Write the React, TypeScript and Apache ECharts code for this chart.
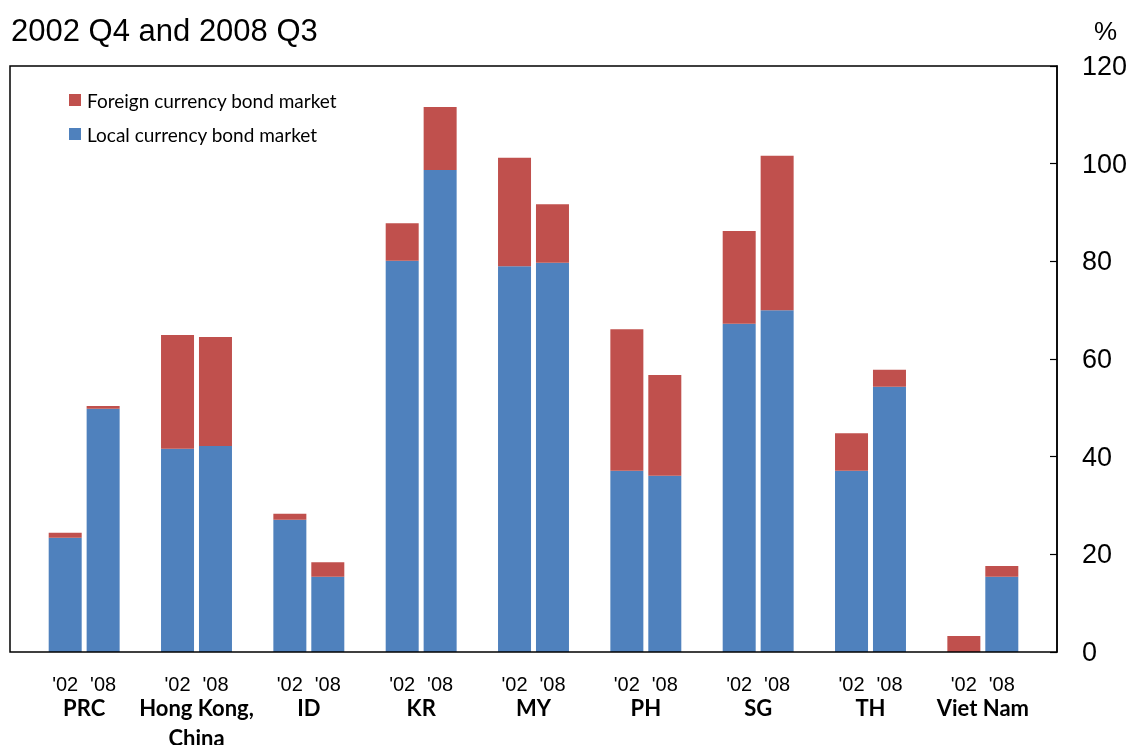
import React, { useEffect, useRef } from "react";
import * as echarts from "echarts";

const categories = ["PRC", "Hong Kong,\nChina", "ID", "KR", "MY", "PH", "SG", "TH", "Viet Nam"];
const yearLabels = ["'02", "'08"];
const local02 = [23.4, 41.6, 27.1, 80.1, 79.0, 37.1, 67.2, 37.1, 0];
const foreign02 = [1.0, 23.3, 1.2, 7.7, 22.2, 29.0, 19.0, 7.7, 3.3];
const local08 = [49.8, 42.2, 15.4, 98.7, 79.7, 36.1, 70.0, 54.3, 15.4];
const foreign08 = [0.6, 22.3, 3.0, 12.9, 12.0, 20.6, 31.6, 3.5, 2.2];
const yTicks = { min: 0, max: 120, interval: 20 };

const RED = "#C0504D";
const BLUE = "#4F81BD";
const LOCAL = "Local currency bond market";
const FOREIGN = "Foreign currency bond market";

export default function App() {
  const ref = useRef<HTMLDivElement>(null);
  useEffect(() => {
    document.body.style.margin = "0";
    const chart = echarts.init(ref.current!, null, { renderer: "svg" });
    const barCommon = { type: "bar", barWidth: 33, barGap: "15%", barCategoryGap: "36%" };
    chart.setOption({
      animation: false,
      title: {
        text: "2002 Q4 and 2008 Q3",
        left: 6,
        top: 10,
        textStyle: { fontFamily: "Liberation Sans", fontSize: 31, fontWeight: "normal", color: "#000" },
      },
      legend: {
        orient: "vertical",
        left: 64,
        top: 85,
        itemWidth: 12,
        itemHeight: 12,
        itemGap: 14,
        icon: "rect",
        data: [FOREIGN, LOCAL],
        textStyle: { fontFamily: "Lato", fontSize: 19, lineHeight: 20, color: "#000", padding: [0, 0, 0, 1] },
      },
      grid: { left: 28, right: 88, top: 66, bottom: 93, outerBoundsMode: "none", containLabel: false },
      xAxis: {
        type: "category",
        data: categories,
        axisLine: { show: false },
        axisTick: { show: false },
        axisLabel: {
          interval: 0,
          margin: 24,
          formatter: (v: string) =>
            yearLabels.map((y) => `{y|${y}}`).join("") +
            "\n" +
            v.split("\n").map((s) => `{c|${s}}`).join("\n"),
          rich: {
            y: { fontFamily: "Liberation Sans", fontSize: 20, color: "#000", width: 38, align: "center", lineHeight: 16 },
            c: { fontFamily: "Lato", fontWeight: "bold", fontSize: 22, color: "#000", lineHeight: 30, align: "center" },
          },
        },
      },
      yAxis: {
        type: "value",
        position: "right",
        offset: 18,
        min: yTicks.min,
        max: yTicks.max,
        interval: yTicks.interval,
        axisLine: { show: true, lineStyle: { color: "#000", width: 1.5 } },
        axisTick: { show: true, inside: true, length: 7, lineStyle: { color: "#000", width: 1.2 } },
        splitLine: { show: false },
        axisLabel: { fontFamily: "Liberation Sans", fontSize: 27, color: "#000", margin: 25 },
      },
      graphic: [
        {
          type: "rect",
          shape: { x: 10, y: 66, width: 1047, height: 586 },
          style: { fill: "none", stroke: "#000", lineWidth: 1.5 },
          z: 100,
          silent: true,
        },
        {
          type: "text",
          left: 1094,
          top: 18,
          style: { text: "%", fontFamily: "Liberation Sans", fontSize: 26, fill: "#000" },
        },
      ],
      series: [
        { ...barCommon, name: LOCAL, stack: "s02", data: local02, itemStyle: { color: BLUE } },
        { ...barCommon, name: FOREIGN, stack: "s02", data: foreign02, itemStyle: { color: RED } },
        { ...barCommon, name: LOCAL, stack: "s08", data: local08, itemStyle: { color: BLUE } },
        { ...barCommon, name: FOREIGN, stack: "s08", data: foreign08, itemStyle: { color: RED } },
      ],
    });
    return () => chart.dispose();
  }, []);
  return <div ref={ref} style={{ position: "fixed", left: 0, top: 0, width: 1127, height: 745 }} />;
}
